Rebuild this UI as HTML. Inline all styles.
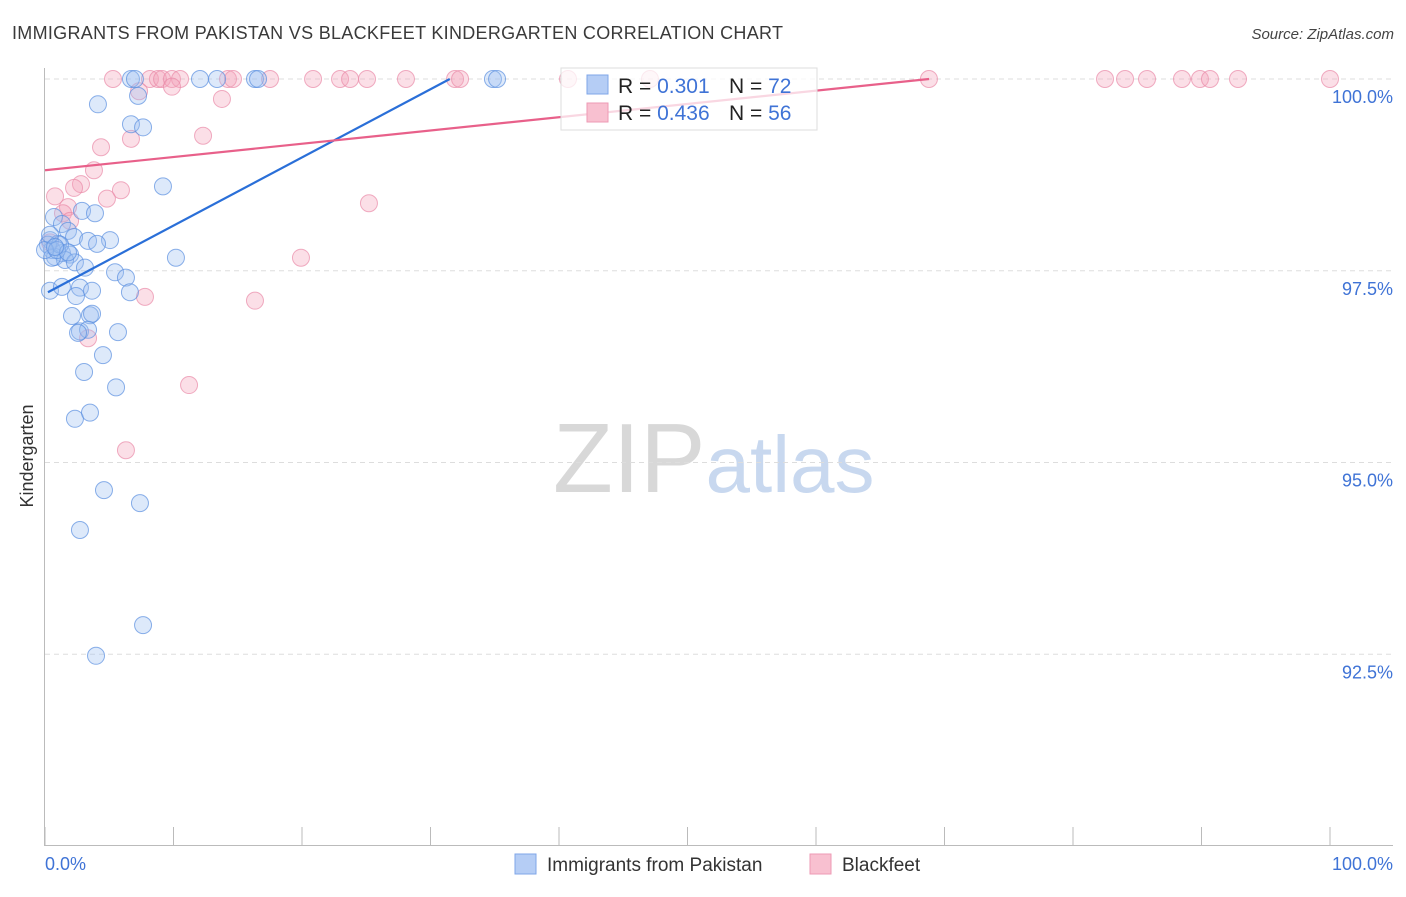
<!DOCTYPE html>
<html><head><meta charset="utf-8"><style>
body{margin:0;background:#fff;font-family:"Liberation Sans",sans-serif}
svg text{font-family:"Liberation Sans",sans-serif}
</style></head><body>
<svg id="chart" width="1406" height="892" xmlns="http://www.w3.org/2000/svg">
<text x="12" y="39" font-size="18" fill="#3a3a3a" textLength="771">IMMIGRANTS FROM PAKISTAN VS BLACKFEET KINDERGARTEN CORRELATION CHART</text>
<text x="1394" y="39" font-size="15" fill="#444" font-style="italic" text-anchor="end">Source: ZipAtlas.com</text>
<text x="553" y="492" font-size="98" font-family="Liberation Serif" fill="#d8d8d8">ZIP<tspan fill="#c8d8ef" font-family="Liberation Sans" font-size="80">atlas</tspan></text>
<g id="grid"></g>
<line x1="44.5" y1="68" x2="44.5" y2="845" stroke="#bbb"/>
<line x1="44" y1="845.5" x2="1393" y2="845.5" stroke="#bbb"/>
<text transform="translate(33,456) rotate(-90)" font-size="18" fill="#333" text-anchor="middle">Kindergarten</text>
<text x="45" y="870" font-size="18" fill="#3f73d6">0.0%</text>
<text x="1393" y="870" font-size="18" fill="#3f73d6" text-anchor="end">100.0%</text>
<g id="pts"></g>
<g id="trend"></g>
<g>
<rect x="561" y="68" width="256" height="62" fill="#fff" fill-opacity="0.75" stroke="#ddd"/>
<rect x="587" y="75" width="21" height="19" fill="#b5cdf5" stroke="#7fa6e8"/>
<text x="618" y="93" font-size="21" fill="#222">R = <tspan fill="#3f73d6">0.301</tspan><tspan x="729">N = </tspan><tspan fill="#3f73d6">72</tspan></text>
<rect x="587" y="103" width="21" height="19" fill="#f8c0d0" stroke="#ee9ab4"/>
<text x="618" y="120" font-size="21" fill="#222">R = <tspan fill="#3f73d6">0.436</tspan><tspan x="729">N = </tspan><tspan fill="#3f73d6">56</tspan></text>
</g>
<g>
<rect x="515" y="854" width="21" height="20" fill="#b5cdf5" stroke="#7fa6e8"/>
<text x="547" y="871" font-size="19" fill="#333">Immigrants from Pakistan</text>
<rect x="810" y="854" width="21" height="20" fill="#f8c0d0" stroke="#ee9ab4"/>
<text x="842" y="871" font-size="19" fill="#333">Blackfeet</text>
</g>
</svg>
<script>
const yTicks=[100,97.5,95,92.5];
const yTickLabels=["100.0%","97.5%","95.0%","92.5%"];
const xTicks=[0,10,20,30,40,50,60,70,80,90,100];
const blueX=[6.69,7.0,12.06,13.39,16.34,16.58,34.86,35.18,4.12,7.24,6.69,7.63,9.18,0.70,2.88,3.89,1.32,1.79,2.26,0.39,1.01,3.35,5.06,4.05,0.54,1.32,1.95,0.78,1.56,2.33,10.19,3.11,5.45,6.30,0.39,1.32,2.72,3.66,2.41,6.61,2.10,3.50,3.66,2.72,3.35,2.57,5.68,4.51,3.04,5.53,2.33,3.50,4.59,7.39,2.72,7.63,3.97,0.23,0.54,1.17,0,0.93,0.39,1.79,0.78];
const blueY=[100,100,100,100,100,100,100,100,99.67,99.78,99.41,99.37,98.60,98.20,98.28,98.25,98.11,98.02,97.94,97.90,97.85,97.89,97.90,97.85,97.77,97.73,97.71,97.68,97.64,97.61,97.67,97.54,97.48,97.41,97.24,97.29,97.28,97.24,97.17,97.22,96.91,96.92,96.94,96.71,96.73,96.69,96.70,96.40,96.18,95.98,95.57,95.65,94.64,94.47,94.12,92.88,92.48,97.84,97.67,97.84,97.77,97.77,97.97,97.74,97.81];
const pinkX=[5.29,8.17,8.79,9.11,9.88,10.51,14.24,14.63,17.51,20.86,22.96,23.74,25.06,28.09,31.91,32.30,40.70,47.08,68.79,82.49,84.05,85.76,88.48,89.88,90.66,92.84,100,9.88,7.32,13.77,12.30,6.69,4.36,3.81,2.80,0.78,2.26,5.91,4.82,25.21,1.79,1.40,1.95,19.92,7.78,16.34,3.35,11.21,6.30,0.39];
const pinkY=[100,100,100,100,100,100,100,100,100,100,100,100,100,100,100,100,100,100,100,100,100,100,100,100,100,100,100,99.90,99.84,99.74,99.26,99.22,99.11,98.81,98.63,98.47,98.58,98.55,98.44,98.38,98.33,98.25,98.15,97.67,97.16,97.11,96.62,96.01,95.16,97.87];
const blueTrend=[[0.23,97.22],[31.5,100]];
const pinkTrend=[[0,98.81],[68.8,100]];
const X=v=>45+v*12.85, Y=v=>79+(100-v)*76.7;
const NS="http://www.w3.org/2000/svg";
const grid=document.getElementById('grid');
yTicks.forEach((t,i)=>{
 const l=document.createElementNS(NS,'line');
 
 
 l.setAttribute('x1',45);l.setAttribute('x2',1393);l.setAttribute('y1',Y(t));l.setAttribute('y2',Y(t));
 l.setAttribute('stroke','#ddd');l.setAttribute('stroke-dasharray','5,4');grid.appendChild(l);
 const tx=document.createElementNS(NS,'text');
 
 
 tx.setAttribute('x',1393);tx.setAttribute('y',Y(t)+24);tx.setAttribute('text-anchor','end');
 tx.setAttribute('font-size','18');tx.setAttribute('fill','#3f73d6');tx.textContent=yTickLabels[i];grid.appendChild(tx);
});
xTicks.forEach(t=>{
 const l=document.createElementNS(NS,'line');
 
 
 l.setAttribute('x1',X(t));l.setAttribute('x2',X(t));l.setAttribute('y1',827);l.setAttribute('y2',845);
 l.setAttribute('stroke','#bbb');grid.appendChild(l);
});
const pts=document.getElementById('pts');
function dots(xs,ys,fill,stroke,name){
 xs.forEach((x,i)=>{
  const c=document.createElementNS(NS,'circle');
  
  
  c.setAttribute('cx',X(x));c.setAttribute('cy',Y(ys[i]));c.setAttribute('r',8.5);
  c.setAttribute('fill',fill);c.setAttribute('fill-opacity','0.35');c.setAttribute('stroke',stroke);c.setAttribute('stroke-opacity','0.7');
  pts.appendChild(c);
 });
}
dots(pinkX,pinkY,'#f4a3bb','#e98aa8','blackfeet-point');
dots(blueX,blueY,'#9fc0f0','#5a8ee0','pakistan-point');
const tr=document.getElementById('trend');
function line(p,col,name){
 const l=document.createElementNS(NS,'line');
 
 
 l.setAttribute('x1',X(p[0][0]));l.setAttribute('y1',Y(p[0][1]));l.setAttribute('x2',X(p[1][0]));l.setAttribute('y2',Y(p[1][1]));
 l.setAttribute('stroke',col);l.setAttribute('stroke-width','2.2');tr.appendChild(l);
}
line(blueTrend,'#2a6fd8','pakistan-trendline');
line(pinkTrend,'#e8608a','blackfeet-trendline');
</script>
</body></html>
